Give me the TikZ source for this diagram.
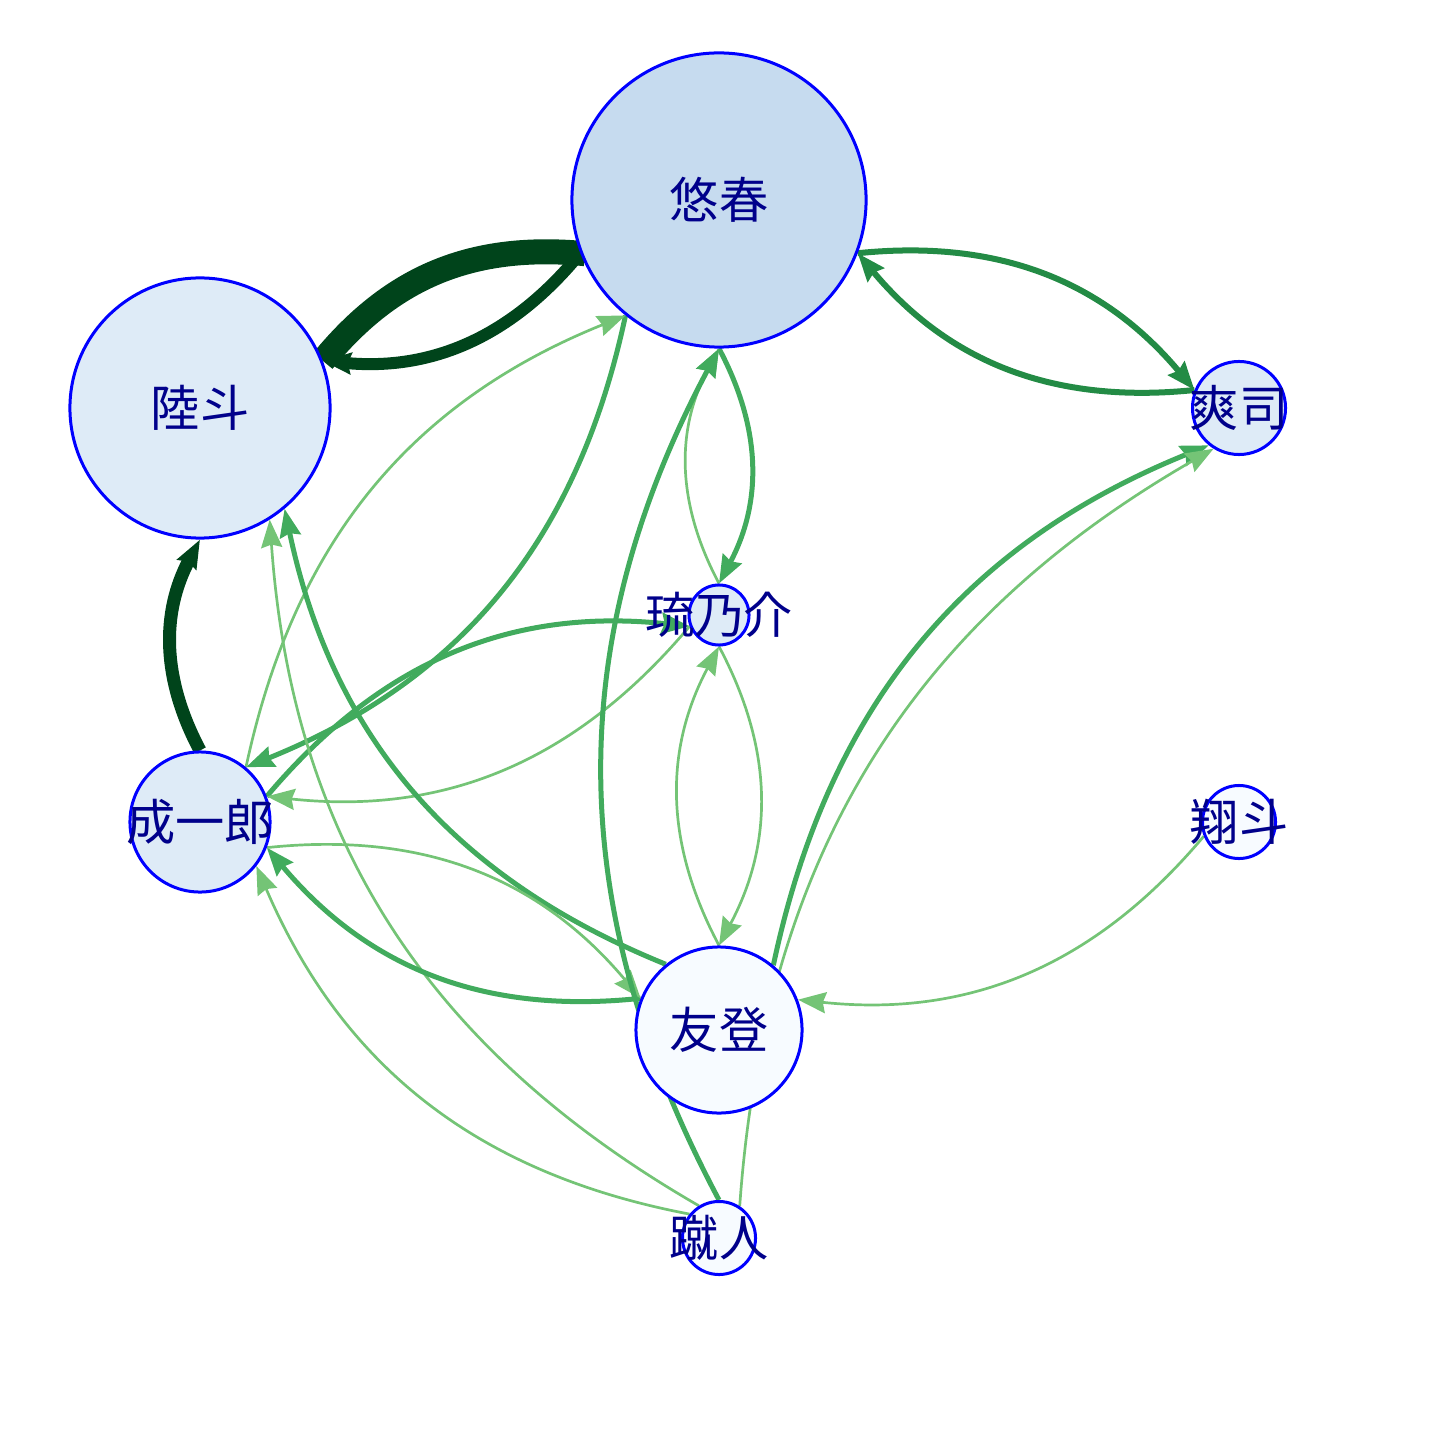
\documentclass[tikz,border=0pt]{standalone}
\usepackage{fontspec}
\newfontfamily\jp{Noto Sans CJK JP}
\usetikzlibrary{arrows.meta,backgrounds}
\definecolor{gA}{HTML}{00441B}
\definecolor{gB}{HTML}{238B45}
\definecolor{gC}{HTML}{41AB5D}
\definecolor{gD}{HTML}{74C476}
\definecolor{vA}{HTML}{C6DBEF}
\definecolor{vB}{HTML}{DEEBF7}
\definecolor{vC}{HTML}{F7FBFF}
\definecolor{ink}{HTML}{00008B}
\tikzset{%
  link/.style = {
    -{Stealth[length=0.28cm, width=0.21cm, inset=0.03cm]},
    draw = #1,
    line width = 0.027cm,
  },
  wide/.style = {
    line width = #1,
  },
  vert/.style = {
    circle,
    draw = blue,
    line width = 0.03cm,
    fill = #1,
    inner sep = 0pt,
  },
  tag/.style = {
    font = \jp\fontsize{14}{14}\selectfont,
    text = ink,
    inner sep = 0pt,
  },
}

\begin{document}
\begin{tikzpicture}[x=0.01cm, y=-0.01cm]
\useasboundingbox (0,0) rectangle (1440,1440);
\node(haru) [vert=vA, minimum size=2.94cm, label={[tag, name=haru-t]center:悠春}]   at (719,200)  {};
\node(riku) [vert=vB, minimum size=2.60cm, label={[tag, name=riku-t]center:陸斗}]   at (200,408)  {};
\node(soji) [vert=vB, minimum size=0.93cm, label={[tag, name=soji-t]center:爽司}]   at (1239,408) {};
\node(ryu)  [vert=vB, minimum size=0.60cm, label={[tag, name=ryu-t]center:琉乃介}]  at (719,615)  {};
\node(sei)  [vert=vB, minimum size=1.40cm, label={[tag, name=sei-t]center:成一郎}]  at (200,822)  {};
\node(sho)  [vert=vC, minimum size=0.73cm, label={[tag, name=sho-t]center:翔斗}]    at (1239,822) {};
\node(tomo) [vert=vC, minimum size=1.66cm, label={[tag, name=tomo-t]center:友登}]   at (719,1030) {};
\node(shu)  [vert=vC, minimum size=0.73cm, label={[tag, name=shu-t]center:蹴人}]    at (719,1238) {};

\begin{scope}[on background layer, bend left=28]
\draw[link=gA, wide=0.25cm, shorten >=-0.28cm] (riku.21.8) to (haru.201.8);
\draw[link=gA, wide=0.12cm] (haru.201.8)  to (riku.21.8);
\draw[link=gA, wide=0.13cm] (sei.90)      to (riku.-90);
\draw[link=gB, wide=0.06cm] (haru.-21.8)  to (soji.158.2);
\draw[link=gB, wide=0.06cm] (soji.158.2)  to (haru.-21.8);
\draw[link=gC, wide=0.05cm] (haru.-90)    to (ryu.90);
\draw[link=gD]              (ryu.90)      to (haru.-90);
\draw[link=gC, wide=0.05cm] (haru.-129.8) to (sei.50.2);
\draw[link=gD]              (sei.50.2)    to (haru.-129.8);
\draw[link=gC, wide=0.05cm] (sei.21.7)    to (ryu.201.7);
\draw[link=gD]              (ryu.201.7)   to (sei.21.7);
\draw[link=gC, wide=0.05cm] (tomo.129.8)  to (riku.-50.2);
\draw[link=gD]              (shu.122)     to (riku.-58);
\draw[link=gD]              (shu.141.3)   to (sei.-38.7);
\draw[link=gC, wide=0.05cm] (tomo.158.2)  to (sei.-21.8);
\draw[link=gD]              (sei.-21.8)   to (tomo.158.2);
\draw[link=gD]              (tomo.90)     to (ryu.-90);
\draw[link=gD]              (ryu.-90)     to (tomo.90);
\draw[link=gC, wide=0.05cm] (shu.90)      to (haru.-90);
\draw[link=gC, wide=0.05cm] (tomo.50.1)   to (soji.-129.9);
\draw[link=gD]              (shu.57.9)    to (soji.-122.1);
\draw[link=gD]              (sho.-158.2)  to (tomo.21.8);
\end{scope}
\end{tikzpicture}
\end{document}
